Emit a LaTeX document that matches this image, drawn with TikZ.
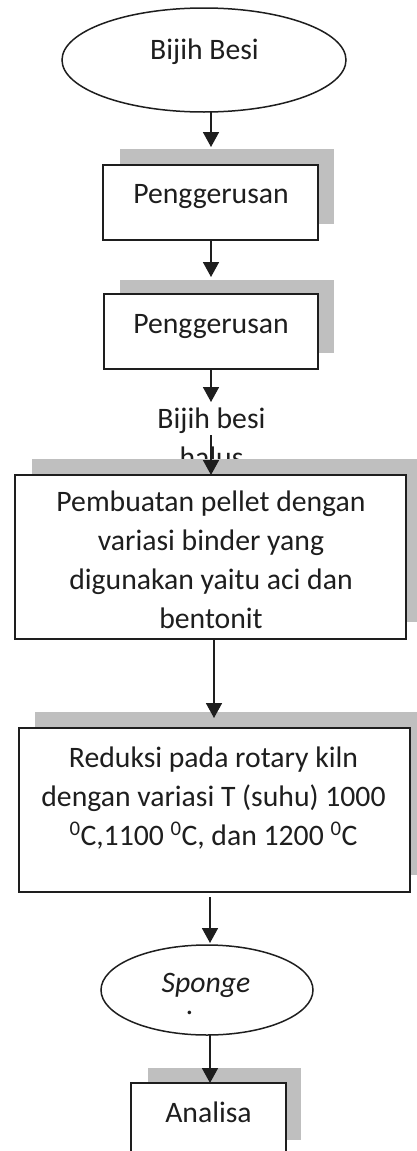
\documentclass[tikz,border=0pt]{standalone}
\usepackage{fontspec}
\setmainfont{Carlito}
\usetikzlibrary{shapes.geometric,arrows.meta}
\definecolor{shade}{HTML}{BFBFBF}
\definecolor{ink}{HTML}{1E1E1E}
\begin{document}
\begin{tikzpicture}[x=1pt,y=-1pt,
  every node/.style={inner sep=0pt,outer sep=0pt},
  shadowbox/.style={rectangle,fill=shade,draw=none},
  stepbox/.style={rectangle,fill=white,draw=ink,line width=1.8pt},
  oval/.style={ellipse,fill=white,draw=ink,line width=1.5pt},
  txt/.style={font=\fontsize{29.7}{39}\selectfont,text=ink,align=center,anchor=base},
  arr/.style={draw=ink,line width=1.7pt,-{Triangle[length=15pt,width=16pt]}}]
\clip (0,0) rectangle (417,1151);
\fill[white] (0,0) rectangle (417,1151);
% start ellipse
\node[oval,minimum width=284pt,minimum height=104pt] (e1) at (204,60) {};
\node[txt] (t0) at (204.5,59) {Bijih Besi};
% box 1
\node[shadowbox,minimum width=214pt,minimum height=75pt] (s1) at (227,186.5) {};
\node[stepbox,minimum width=215pt,minimum height=75pt] (b1) at (210.5,202.5) {};
\node[txt] (t1) at (211,203) {Penggerusan};
% box 2
\node[shadowbox,minimum width=214pt,minimum height=73pt] (s2) at (227,316.5) {};
\node[stepbox,minimum width=214pt,minimum height=75pt] (b2) at (211,331.5) {};
\node[txt] (t2) at (211,333) {Penggerusan};
% intermediate label
\node[txt] (t3) at (211.5,428) {Bijih besi};
\node[txt,text height=14pt,text depth=0pt] (t3b) at (211.5,467) {halus};
% box 3
\node[shadowbox,minimum width=385pt,minimum height=163pt] (s3) at (224.5,540.5) {};
\node[stepbox,minimum width=391pt,minimum height=164pt] (b3) at (210.5,557) {};
\node[txt] (t4) at (211,628) {Pembuatan pellet dengan\\variasi binder yang\\digunakan yaitu aci dan\\bentonit};
% box 4
\node[shadowbox,minimum width=382pt,minimum height=163pt] (s4) at (226,793.5) {};
\node[stepbox,minimum width=391pt,minimum height=164pt] (b4) at (214.5,810) {};
\node[txt] (t5) at (213.5,845) {Reduksi pada rotary kiln\\dengan variasi T (suhu) 1000\\\textsuperscript{0}C,1100 \textsuperscript{0}C, dan 1200 \textsuperscript{0}C};
% sponge
\node[oval,minimum width=212pt,minimum height=90pt] (e2) at (207,990) {};
\node[txt,font=\fontsize{29.7}{39}\selectfont\itshape,text depth=2pt] (t6) at (206,992) {Sponge};
\node[txt,font=\fontsize{29.7}{39}\selectfont\itshape,text height=4pt,text depth=0pt] (t6b) at (190,1014) {.};
% box 5
\node[shadowbox,minimum width=153pt,minimum height=72pt] (s5) at (224.5,1104) {};
\node[stepbox,minimum width=155pt,minimum height=80pt] (b5) at (208.5,1123) {};
\node[txt] (t7) at (208.5,1122) {Analisa};
% connectors
\coordinate (a1) at (211,147);
\coordinate (a2) at (211,277);
\coordinate (a3) at (211,402);
\coordinate (a4s) at (211,435);
\coordinate (a5) at (214,718);
\coordinate (a6) at (210,943);
\draw[arr] (a1 |- e1.south) -- (a1);
\draw[arr] (a2 |- b1.south) -- (a2);
\draw[arr] (a3 |- b2.south) -- (a3);
\draw[arr] (a4s) -- (a4s |- b3.north);
\draw[arr] (a5 |- b3.south) -- (a5);
\draw[arr] (a6 |- b4.south) ++(0,5) -- (a6);
\draw[arr] (a6 |- e2.south) -- (a6 |- b5.north);
\end{tikzpicture}
\end{document}
